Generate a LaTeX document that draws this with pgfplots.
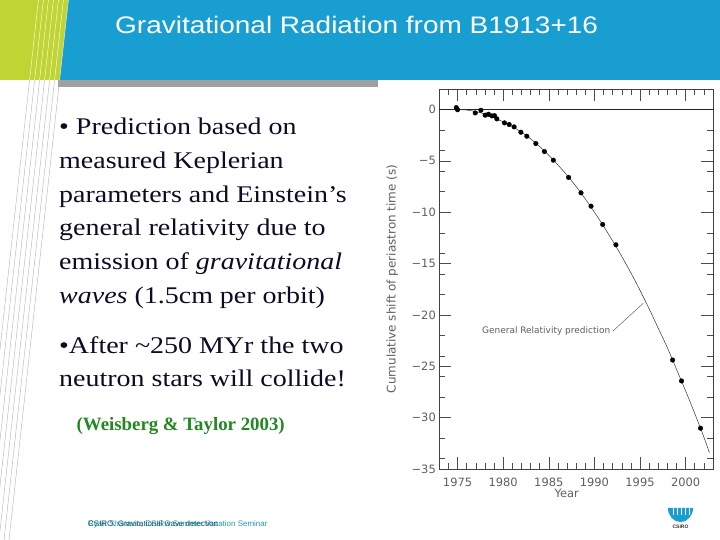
\documentclass[border=0pt]{standalone}
\usepackage{fontspec}
\setmainfont{Liberation Serif}
\newfontfamily\arial{Liberation Sans}
\newfontfamily\dejavu{DejaVu Sans}
\usepackage{graphicx}
\usepackage{pgfplots}
\pgfplotsset{compat=1.18}

\definecolor{bannerblue}{RGB}{24,158,208}
\definecolor{limegreen}{RGB}{192,212,52}
\definecolor{bargray}{RGB}{160,160,160}
\definecolor{bodytext}{RGB}{12,12,36}
\definecolor{citegreen}{RGB}{34,136,34}
\definecolor{footteal}{RGB}{40,150,185}
\definecolor{chartgray}{RGB}{95,95,95}

\begin{document}
\begin{tikzpicture}[x=1bp,y=1bp]
\useasboundingbox (0,0) rectangle (720,540);
\fill[white] (0,0) rectangle (720,540);
\begin{scope}
\clip (0,0) rectangle (720,540);
% banner
\fill[bannerblue] (58,460) rectangle (720,540);
\fill[limegreen] (0,460) -- (59.4,460) -- (68.2,540) -- (0,540) -- cycle;
\fill[bargray] (58,453) rectangle (378,460);
\foreach \x in {23,28,33,38,43,48,53} {
  \draw[gray!60, line width=0.4pt] ({\x+6.6},460) -- ({\x-44},0);
  \draw[white, line width=0.4pt] ({\x+15.4},540) -- ({\x+6.6},460);
}
\end{scope}

% title
\node[anchor=base west, inner sep=0, text=white, font=\arial\fontsize{24}{28}\selectfont]
  at (115,506.5) {\scalebox{1.17}[1]{Gravitational Radiation from B1913+16}};

% body text
\begin{scope}[every node/.style={anchor=base west, inner sep=0, text=bodytext, font=\fontsize{24}{28}\selectfont}]
\node at (59,405)   {\scalebox{1.17}[1]{• Prediction based on}};
\node at (59,371.3) {\scalebox{1.17}[1]{measured Keplerian}};
\node at (59,337.6) {\scalebox{1.17}[1]{parameters and Einstein’s}};
\node at (59,304)   {\scalebox{1.17}[1]{general relativity due to}};
\node at (59,270)   {\scalebox{1.17}[1]{emission of \textit{gravitational}}};
\node at (59,236.3) {\scalebox{1.17}[1]{\textit{waves} (1.5cm per orbit)}};
\node at (59,186.7) {\scalebox{1.17}[1]{•After \textasciitilde250 MYr the two}};
\node at (59,153.3) {\scalebox{1.17}[1]{neutron stars will collide!}};
\end{scope}
\node[anchor=base west, inner sep=0, text=citegreen, font=\bfseries\fontsize{18.9}{22}\selectfont]
  at (76.5,109) {(Weisberg \& Taylor 2003)};

% chart
\begin{axis}[
  at={(439.3bp,71bp)}, anchor=south west,
  scale only axis, width=273.7bp, height=380bp,
  xmin=1973, xmax=2003, ymin=-35, ymax=2,
  axis line style={draw=black!75, line width=0.6pt},
  xtick={1975,1980,1985,1990,1995,2000},
  xticklabels={1975,1980,1985,1990,1995,2000},
  minor xtick={1973,1974,...,2003},
  ytick={-35,-30,-25,-20,-15,-10,-5,0},
  yticklabels={−35,−30,−25,−20,−15,−10,−5,0},
  minor ytick={-34,-32,...,-2},
  tick align=inside,
  major tick length=12bp, minor tick length=6bp,
  tick style={black!70, line width=0.5pt},
  ticklabel style={font=\dejavu\fontsize{11.5}{11.5}\selectfont, text=chartgray},
  xticklabel style={yshift=-5bp},
  clip=false,
]
\addplot[black!85, line width=0.7pt, no markers] coordinates {(1973,0) (2003,0)};
\addplot[black!80, line width=0.5pt, no markers, smooth] coordinates {
(1974.5,0) (1975,0) (1976,-0.05) (1977,-0.2) (1978,-0.45) (1979,-0.8)
(1980,-1.2) (1981,-1.65) (1982,-2.2) (1983,-2.85) (1984,-3.6) (1985,-4.45)
(1986,-5.4) (1987,-6.4) (1988,-7.5) (1989,-8.7) (1990,-10.0) (1991,-11.35)
(1992,-12.8) (1993,-14.3) (1994,-15.9) (1995,-17.6) (1996,-19.4) (1997,-21.3)
(1998,-23.2) (1999,-25.3) (2000,-27.4) (2001,-29.6) (2002,-31.9) (2002.6,-33.4)
};
\addplot[only marks, mark=*, mark size=2.3bp, black] coordinates {
(1974.86,0.19) (1975.0,-0.02) (1976.94,-0.33) (1977.56,-0.07) (1978.03,-0.55)
(1978.39,-0.46) (1978.76,-0.62) (1979.05,-0.6) (1979.31,-0.91) (1980.14,-1.30)
(1980.66,-1.46) (1981.2,-1.69) (1981.94,-2.21) (1982.59,-2.60) (1983.58,-3.31)
(1984.52,-4.09) (1985.5,-4.93) (1987.17,-6.61) (1988.53,-8.11) (1989.63,-9.41)
(1990.91,-11.19) (1992.36,-13.17) (1998.57,-24.39) (1999.55,-26.43) (2001.63,-31.03)
};
\draw[black!70, line width=0.4pt] (axis cs:1992.05,-21.55) -- (axis cs:1995.35,-18.87);
\node[anchor=east, inner sep=0, font=\dejavu\fontsize{9}{9}\selectfont, text=chartgray]
  at (axis cs:1991.75,-21.6) {General Relativity prediction};
\node[rotate=90, inner sep=0, font=\dejavu\fontsize{12}{12}\selectfont, text=chartgray]
  at (rel axis cs:-0.172,0.5) {Cumulative shift of periastron time (s)};
\node[inner sep=0, font=\dejavu\fontsize{11.5}{11.5}\selectfont, text=chartgray]
  at (rel axis cs:0.4655,-0.064) {Year};
\end{axis}

% footer
\node[anchor=base west, inner sep=0, text=footteal, font=\arial\fontsize{8}{9}\selectfont]
  at (88,13) {Ryan Shannon, CSIRO Summer Vacation Seminar};
\node[anchor=base west, inner sep=0, text=footteal!60!black, font=\arial\fontsize{8}{9}\selectfont]
  at (88,13.5) {CSIRO. Gravitational wave detection};

% logo
\fill[bannerblue] (668,32) arc[start angle=180, end angle=360, x radius=12.5, y radius=14] -- cycle;
\foreach \x in {673,677,681,685,689} {\draw[white, line width=0.8pt] (\x,33) -- (\x,25);}
\node[inner sep=0, font=\arial\bfseries\fontsize{5}{5}\selectfont, text=black!80] at (680.5,13) {CSIRO};
\end{tikzpicture}
\end{document}
